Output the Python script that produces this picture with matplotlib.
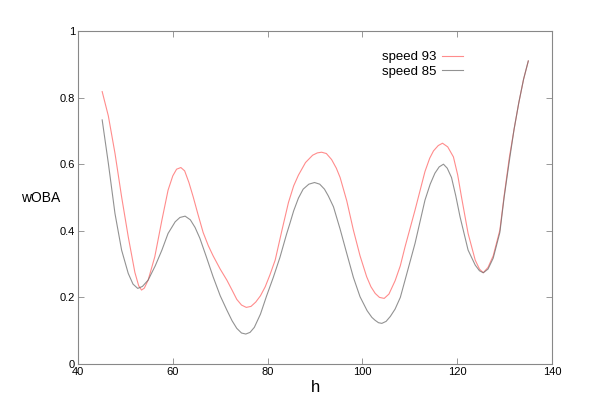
import matplotlib
matplotlib.use('Agg')
import matplotlib.pyplot as plt

# values (h, wOBA)
h_93 = [45.1, 46.4, 47.8, 49.2, 50.6, 52.0, 52.8, 53.4, 54.0, 54.8, 56.2, 57.7,
        59.0, 60.0, 60.8, 61.7, 62.5, 63.4, 64.3, 65.3, 66.4, 67.5, 68.5, 70.0,
        71.4, 72.5, 73.5, 74.5, 75.5, 76.5, 77.5, 78.5, 79.5, 80.5, 81.6, 83.0,
        84.4, 85.5, 86.5, 88.0, 89.5, 90.5, 91.4, 92.4, 93.5, 94.5, 95.3, 96.7,
        98.1, 99.5, 100.9, 101.8, 102.7, 103.6, 104.6, 105.6, 106.9, 108.0, 109.0,
        111.1, 113.2, 114.2, 115.0, 116.0, 116.9, 118.0, 119.2, 120.1, 120.9,
        122.3, 123.8, 124.7, 125.5, 126.5, 127.6, 129.0, 129.9, 131.0, 132.0,
        133.0, 134.0, 135.0]
woba_93 = [0.818, 0.745, 0.633, 0.502, 0.382, 0.275, 0.235, 0.222, 0.228, 0.252, 0.322, 0.432,
           0.522, 0.565, 0.585, 0.59, 0.58, 0.545, 0.502, 0.45, 0.395, 0.355, 0.325, 0.285,
           0.252, 0.222, 0.194, 0.177, 0.17, 0.173, 0.186, 0.205, 0.232, 0.268, 0.312, 0.40,
           0.485, 0.535, 0.567, 0.605, 0.627, 0.634, 0.636, 0.632, 0.614, 0.588, 0.56, 0.49,
           0.402, 0.325, 0.262, 0.232, 0.212, 0.2, 0.197, 0.21, 0.25, 0.295, 0.352,
           0.462, 0.578, 0.618, 0.64, 0.656, 0.663, 0.652, 0.622, 0.568, 0.502,
           0.392, 0.312, 0.285, 0.274, 0.29, 0.325, 0.402, 0.505, 0.62, 0.705,
           0.785, 0.855, 0.91]

h_85 = [45.1, 46.4, 47.8, 49.2, 50.6, 51.6, 52.6, 53.6, 54.8, 56.3, 57.7, 59.0,
        60.5, 61.5, 62.6, 63.7, 64.7, 65.7, 67.0, 68.5, 70.0, 71.4, 72.5, 73.5,
        74.5, 75.4, 76.3, 77.2, 78.5, 79.8, 81.2, 82.6, 84.0, 84.7, 85.5, 86.5,
        87.5, 88.7, 89.9, 91.0, 92.0, 92.8, 93.9, 95.3, 96.7, 98.1, 99.5, 101.0,
        102.0, 102.7, 103.4, 104.1, 105.0, 105.9, 106.9, 108.0, 109.0, 111.1, 113.2,
        114.3, 115.3, 116.2, 117.1, 117.9, 118.8, 119.7, 120.6, 122.3, 123.8, 124.7,
        125.5, 126.5, 127.6, 129.0, 129.9, 131.0, 132.0, 133.0, 134.0, 135.0]
woba_85 = [0.733, 0.603, 0.452, 0.342, 0.272, 0.24, 0.227, 0.233, 0.252, 0.295, 0.342, 0.392,
           0.427, 0.44, 0.444, 0.433, 0.41, 0.378, 0.325, 0.262, 0.205, 0.162, 0.13, 0.107,
           0.093, 0.09, 0.095, 0.11, 0.15, 0.205, 0.26, 0.32, 0.39, 0.422, 0.46, 0.498,
           0.525, 0.54, 0.545, 0.54, 0.525, 0.505, 0.472, 0.405, 0.332, 0.26, 0.202, 0.16,
           0.14, 0.131, 0.124, 0.122, 0.128, 0.143, 0.165, 0.2, 0.252, 0.362, 0.492,
           0.54, 0.573, 0.592, 0.60, 0.588, 0.56, 0.505, 0.442, 0.342, 0.297, 0.28,
           0.274, 0.285, 0.318, 0.395, 0.5, 0.61, 0.705, 0.785, 0.855, 0.91]

xticks = [40, 60, 80, 100, 120, 140]
yticks = [0, 0.2, 0.4, 0.6, 0.8, 1]
ytick_labels = ['0', '0.2', '0.4', '0.6', '0.8', '1']

plt.rcParams['font.family'] = ['Liberation Sans', 'DejaVu Sans']

fig = plt.figure(figsize=(6.11, 4.08), dpi=100)
ax = fig.add_axes([78 / 611, 1 - 364 / 408, 474 / 611, 333 / 408])

ax.plot(h_93, woba_93, color='#ff8c8c', lw=0.8, label='speed 93')
ax.plot(h_85, woba_85, color='#6e6e6e', lw=0.8, alpha=0.75, label='speed 85')

ax.set_xlim(40, 140)
ax.set_ylim(0, 1)
ax.set_xticks(xticks)
ax.set_yticks(yticks)
ax.set_yticklabels(ytick_labels)
ax.tick_params(direction='in', length=4, width=0.6, color='#888888',
               labelsize=8, pad=2, top=True, right=True)
for sp in ax.spines.values():
    sp.set_color('#888888')
    sp.set_linewidth(0.8)

ax.set_xlabel('h', fontsize=12, labelpad=2)
ax.set_ylabel('wOBA', fontsize=10, rotation=0, labelpad=14, va='center')

ax.legend(loc='upper right', bbox_to_anchor=(0.812, 0.94), frameon=False,
          markerfirst=False, fontsize=9.5, handlelength=1.6, handletextpad=0.4,
          labelspacing=0.2, borderpad=0, borderaxespad=0)

fig.savefig('out.png', dpi=100)
